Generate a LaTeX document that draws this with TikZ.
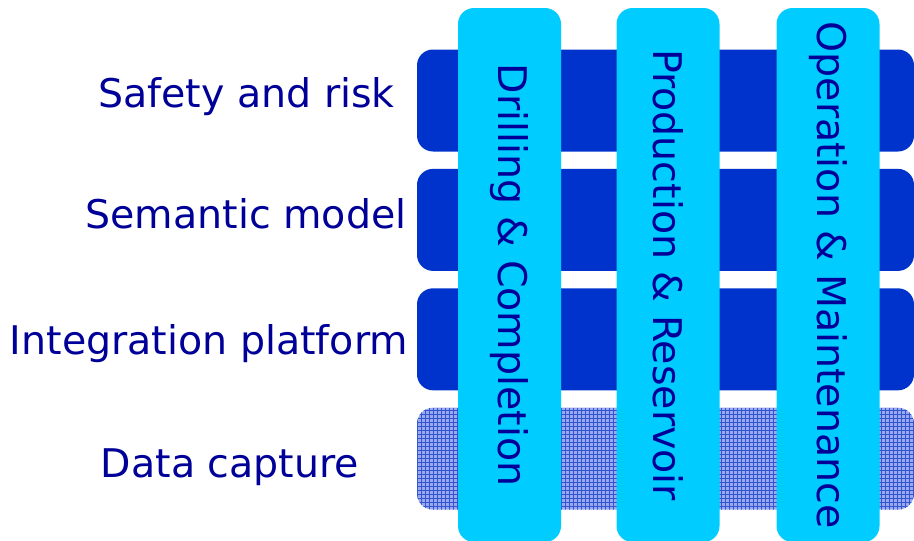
\documentclass[tikz,border=0pt]{standalone}
\usepackage{fontspec}
\setmainfont{DejaVu Sans}
\usepackage{tikz}
\usetikzlibrary{positioning}
\definecolor{bardark}{HTML}{0033CC}
\definecolor{columncyan}{HTML}{00CCFF}
\definecolor{labelnavy}{HTML}{000099}
\definecolor{gridfill}{HTML}{9AA8EE}
\definecolor{gridline}{HTML}{3355D0}
\tikzset{
x=1pt, y=-1pt, % one unit is one pixel of the reference, y runs downwards
node distance=17pt, % gap between two layers
every node/.style={font=\fontsize{39.5}{42}\selectfont, text=labelnavy},
layer/.style={rectangle, rounded corners=16pt, inner sep=0pt, minimum width=497pt, minimum height=102pt, fill=bardark}, % the dark layer bars
gridlayer/.style={layer, fill=gridfill, path picture={\draw[gridline, line width=0.8pt, step=4pt] (path picture bounding box.south west) grid (path picture bounding box.north east);}}, % the hatched bottom layer
column/.style={rectangle, rounded corners=16pt, inner sep=0pt, minimum width=534pt, minimum height=103pt, fill=columncyan, rotate=-90}, % the upright domains
layername/.style={anchor=base}, % text to the left of a layer
}
\begin{document}
\begin{tikzpicture}
    \useasboundingbox (0,0) rectangle (914,541);

    \node[layer] (safety) at (665.5,100.5) {};
    \node[layer, below=of safety] (semantic) {};
    \node[layer, below=of semantic] (integration) {};
    \node[gridlayer, below=of integration] (capture) {};

    \node[layername] (safetyname) at (246.5,107) {Safety and risk};
    \node[layername] (semanticname) at (246,228) {Semantic model};
    \node[layername] (integrationname) at (209,354) {Integration platform};
    \node[layername] (capturename) at (230,477) {Data capture};

    \node[column] (drilling) at (509.5,275) {Drilling \& Completion};
    \node[column] (production) at (668,275) {Production \& Reservoir};
    \node[column] (operation) at (828,275) {Operation \& Maintenance};
\end{tikzpicture}
\end{document}
